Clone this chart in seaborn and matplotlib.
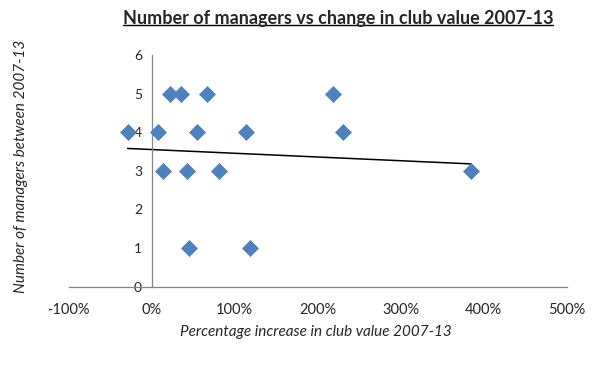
import numpy as np
import pandas as pd
import seaborn as sns
import matplotlib.pyplot as plt
from matplotlib.lines import Line2D

# values
pct_increase = [-29, 7, 22, 35, 67, 55, 114, 14, 42, 81, 45, 118, 219, 231, 385]
n_managers = [4, 4, 5, 5, 5, 4, 4, 3, 3, 3, 1, 1, 5, 4, 3]
# linear trendline end points as drawn in the reference
trend_x = [-29, 385]
trend_y = [3.58, 3.18]
x_ticks = [-100, 0, 100, 200, 300, 400, 500]
y_ticks = [0, 1, 2, 3, 4, 5, 6]

df = pd.DataFrame({'pct': pct_increase, 'managers': n_managers})
trend = pd.DataFrame({'pct': trend_x, 'managers': trend_y})

sns.set_style("white")
plt.rcParams['font.family'] = ['Lato', 'DejaVu Sans']

fig = plt.figure(figsize=(6.06, 3.66), dpi=100)
ax = fig.add_axes([0.1134, 0.2167, 0.8216, 0.633])

sns.lineplot(x='pct', y='managers', data=trend, color='black', linewidth=1.1, ax=ax)
sns.scatterplot(x='pct', y='managers', data=df, marker='D', s=75, color='#4F81BD',
                edgecolor='#4F81BD', linewidth=0, ax=ax, zorder=3)

ax.set_xlim(-100, 500)
ax.set_ylim(0, 6)
ax.set_xticks(x_ticks)
ax.set_xticklabels(['%d%%' % v for v in x_ticks], fontsize=10.5)
ax.set_yticks(y_ticks)
ax.set_yticklabels([str(v) for v in y_ticks], fontsize=11, family='Liberation Serif')

ax.spines['top'].set_visible(False)
ax.spines['right'].set_visible(False)
ax.spines['left'].set_position(('data', 0))
for sp in ['left', 'bottom']:
    ax.spines[sp].set_color('#868686')
    ax.spines[sp].set_linewidth(0.9)
ax.tick_params(axis='both', which='both', direction='out', length=4, width=0.9,
               color='#868686', pad=3)
ax.tick_params(axis='x', pad=8)

ax.set_xlabel('')
ax.set_ylabel('')
fig.text(0.522, 0.093, 'Percentage increase in club value 2007-13', ha='center', va='center',
         fontsize=11, style='italic')
fig.text(0.035, 0.545, 'Number of managers between 2007-13', ha='center', va='center',
         fontsize=11, style='italic', rotation=90)

title = fig.text(0.558, 0.95, 'Number of managers vs change in club value 2007-13',
                 ha='center', va='center', fontsize=13, fontweight='bold')
fig.canvas.draw()
bb = title.get_window_extent().transformed(fig.transFigure.inverted())
fig.add_artist(Line2D([bb.x0, bb.x1], [bb.y0 + 0.004, bb.y0 + 0.004], color='black',
                      linewidth=1.0, transform=fig.transFigure))

fig.savefig('out.png', dpi=100)
